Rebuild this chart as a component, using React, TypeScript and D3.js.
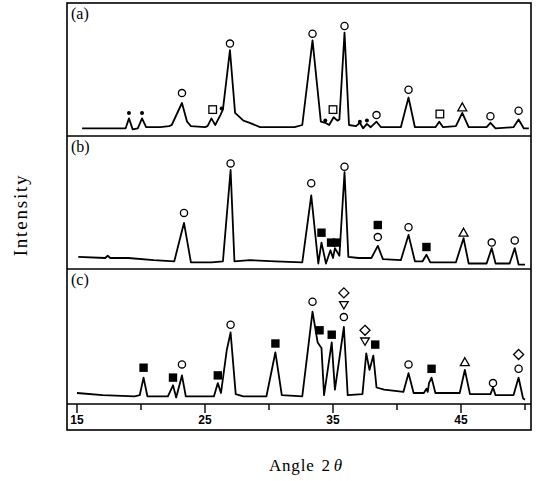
import * as d3 from "d3";

// x ticks and labels
const tickAngles = [15, 20, 25, 30, 35, 40, 45, 50];
const labelAngles = [15, 25, 35, 45];

// traces: [2θ, intensity]
const traceA: [number, number][] = [
  [15.4, 7], [17.5, 7], [18.8, 7], [19.06, 16], [19.35, 6], [19.75, 7], [20.08, 16], [20.4, 8],
  [21.5, 8], [22.2, 9], [22.4, 10], [23.2, 30], [23.6, 13], [23.9, 9], [25.0, 8], [25.2, 9],
  [25.5, 16], [25.8, 10], [26.2, 19], [26.4, 24], [26.95, 78], [27.35, 21], [28.0, 14],
  [28.5, 12], [29.3, 8], [32.0, 8], [32.6, 10], [33.4, 87], [34.05, 13], [34.4, 12],
  [34.7, 10], [35.05, 17], [35.35, 14], [35.5, 15], [35.9, 94], [36.25, 10], [36.8, 9],
  [37.1, 12], [37.35, 7], [37.65, 11], [37.95, 8], [38.4, 13], [38.75, 8], [40.3, 8],
  [40.9, 35], [41.4, 8], [43.0, 8], [43.3, 13], [43.6, 8], [44.6, 9], [45.1, 21],
  [45.6, 8], [47.0, 8], [47.3, 12], [47.7, 7], [49.1, 8], [49.5, 15], [49.9, 7], [50.3, 7],
];

const traceB: [number, number][] = [
  [15.1, 11], [17.2, 10], [17.4, 12], [17.6, 10], [19.0, 10], [21.0, 8], [22.6, 7],
  [23.36, 42], [23.9, 6], [25.5, 6], [26.4, 7], [27.0, 90], [27.3, 7], [28.5, 8],
  [30.5, 7], [32.6, 6], [33.3, 67], [33.85, 5], [34.1, 24], [34.45, 5], [34.8, 17],
  [35.0, 10], [35.15, 19], [35.5, 12], [35.9, 88], [36.2, 11], [37.0, 10], [38.0, 10],
  [38.5, 21], [38.9, 9], [40.3, 8], [40.9, 31], [41.4, 7], [42.0, 7], [42.3, 13],
  [42.6, 6], [44.6, 6], [45.2, 28], [45.6, 5], [47.0, 5], [47.4, 19], [47.7, 5],
  [48.8, 5], [49.2, 19], [49.5, 4], [50.0, 4],
];

const traceC: [number, number][] = [
  [15.0, 10], [17.0, 8], [19.5, 7], [19.9, 8], [20.2, 24], [20.5, 7], [22.1, 7],
  [22.5, 17], [22.75, 6], [23.2, 26], [23.5, 7], [25.7, 7], [26.0, 19], [26.25, 10],
  [26.7, 49], [27.0, 65], [27.4, 9], [28.0, 7], [29.8, 7], [30.5, 47], [31.0, 8],
  [32.6, 7], [33.4, 84], [33.8, 56], [34.1, 51], [34.3, 8], [34.9, 56], [35.15, 13],
  [35.85, 70], [36.15, 8], [37.3, 9], [37.6, 46], [37.85, 31], [38.15, 44], [38.4, 15],
  [39.0, 13], [40.5, 11], [40.9, 28], [41.3, 10], [42.1, 10], [42.3, 14], [42.4, 11],
  [42.5, 19], [42.7, 24], [43.0, 10], [44.9, 10], [45.3, 31], [45.7, 9], [47.3, 9],
  [47.5, 15], [47.7, 8], [49.1, 8], [49.5, 24], [49.85, 5], [50.0, 4],
];

// phase markers: [2θ, level, symbol]
type Mark = [number, number, string];
const marksA: Mark[] = [
  [19.06, 21, "dot"], [20.08, 21, "dot"], [23.2, 39, "circle"], [25.6, 24, "square"],
  [26.3, 25, "dot"], [26.95, 84, "circle"], [33.4, 93, "circle"], [34.4, 14, "dot"],
  [35.0, 24, "square"], [35.9, 100, "circle"], [37.1, 13, "dot"], [37.65, 14, "dot"],
  [38.4, 19, "circle"], [40.9, 42, "circle"], [43.35, 20, "square"], [45.1, 26, "triangle"],
  [47.3, 18, "circle"], [49.5, 23, "circle"],
];

const marksB: Mark[] = [
  [23.36, 51, "circle"], [27.0, 96, "circle"], [33.3, 78, "circle"], [34.1, 33, "fsquare"],
  [34.85, 24, "fsquare"], [35.3, 24, "fsquare"], [35.9, 93, "circle"], [38.5, 29, "circle"],
  [38.5, 40, "fsquare"], [40.9, 38, "circle"], [42.3, 20, "fsquare"], [45.2, 33, "triangle"],
  [47.4, 24, "circle"], [49.2, 26, "circle"],
];

const marksC: Mark[] = [
  [20.2, 33, "fsquare"], [22.5, 24, "fsquare"], [23.2, 36, "circle"], [26.0, 26, "fsquare"],
  [27.0, 72, "circle"], [30.5, 55, "fsquare"], [33.4, 93, "circle"], [33.95, 67, "fsquare"],
  [34.9, 63, "fsquare"], [35.85, 101, "diamond"], [35.85, 90, "tridown"], [35.85, 79, "circle"],
  [37.5, 67, "diamond"], [37.5, 57, "tridown"], [38.3, 54, "fsquare"], [40.9, 36, "circle"],
  [42.7, 32, "fsquare"], [45.3, 38, "triangle"], [47.5, 19, "circle"], [49.5, 32, "circle"],
  [49.5, 45, "diamond"],
];

const panelLabels = ["(a)", "(b)", "(c)"];

const W = 538;
const H = 481;
const frameLeft = 67;
const frameRight = 531;
const panelEdges = [3, 136, 269, 404];
const axisBottom = 430;

const x = d3.scaleLinear().domain([15, 50]).range([77, 525]);

function Marker({ m, y }: { m: Mark; y: d3.ScaleLinear<number, number> }) {
  const cx = x(m[0]);
  const cy = y(m[1]);
  const s = m[2];
  const stroke = { stroke: "#000", strokeWidth: 1.3 };
  if (s === "circle") return <circle cx={cx} cy={cy} r={3.6} fill="#fff" {...stroke} />;
  if (s === "dot") return <circle cx={cx} cy={cy} r={2} fill="#000" />;
  if (s === "square")
    return <rect x={cx - 3.8} y={cy - 3.8} width={7.6} height={7.6} fill="#fff" {...stroke} />;
  if (s === "fsquare")
    return <rect x={cx - 4.2} y={cy - 4.2} width={8.4} height={8.4} fill="#000" />;
  if (s === "triangle")
    return (
      <path d={`M${cx},${cy - 4.5}L${cx + 4.5},${cy + 3.5}L${cx - 4.5},${cy + 3.5}Z`} fill="#fff" {...stroke} />
    );
  if (s === "tridown")
    return (
      <path d={`M${cx},${cy + 4}L${cx + 4.3},${cy - 3.3}L${cx - 4.3},${cy - 3.3}Z`} fill="#fff" {...stroke} />
    );
  return (
    <path d={`M${cx},${cy - 5}L${cx + 5},${cy}L${cx},${cy + 5}L${cx - 5},${cy}Z`} fill="#fff" {...stroke} />
  );
}

export default function App() {
  const traces = [traceA, traceB, traceC];
  const marks = [marksA, marksB, marksC];
  const serif = "'Liberation Serif', 'DejaVu Serif', serif";

  return (
    <svg width={W} height={H} style={{ position: "absolute", left: 0, top: 0, background: "#fff" }}>
      {traces.map((tr, i) => {
        const bottom = panelEdges[i + 1];
        const y = d3.scaleLinear().domain([0, 100]).range([bottom, bottom - 110]);
        const line = d3
          .line<[number, number]>()
          .x((d) => x(d[0]))
          .y((d) => y(d[1]));
        return (
          <g key={i}>
            <path d={line(tr) || ""} fill="none" stroke="#000" strokeWidth={1.8} strokeLinejoin="round" />
            {marks[i].map((m, j) => (
              <Marker key={j} m={m} y={y} />
            ))}
            <text x={frameLeft + 4} y={panelEdges[i] + 16} fontFamily={serif} fontSize={16}>
              {panelLabels[i]}
            </text>
          </g>
        );
      })}

      {/* frame and panel dividers */}
      <rect
        x={frameLeft}
        y={panelEdges[0]}
        width={frameRight - frameLeft}
        height={axisBottom - panelEdges[0]}
        fill="none"
        stroke="#000"
        strokeWidth={1.6}
      />
      {panelEdges.slice(1).map((py) => (
        <line key={py} x1={frameLeft} x2={frameRight} y1={py} y2={py} stroke="#000" strokeWidth={1.6} />
      ))}

      {/* x axis ticks */}
      {tickAngles.map((t) => (
        <line
          key={t}
          x1={x(t)}
          x2={x(t)}
          y1={panelEdges[3]}
          y2={panelEdges[3] + (labelAngles.includes(t) ? 9 : 6)}
          stroke="#000"
          strokeWidth={1.4}
        />
      ))}
      {labelAngles.map((t) => (
        <text
          key={t}
          x={x(t)}
          y={424}
          textAnchor="middle"
          fontFamily="'Liberation Sans', Arial, sans-serif"
          fontSize={12}
          fontWeight="bold"
        >
          {t}
        </text>
      ))}

      <text
        transform="translate(27,215) rotate(-90)"
        textAnchor="middle"
        fontFamily={serif}
        fontSize={19}
        letterSpacing={1.8}
      >
        Intensity
      </text>
      <text x={306} y={471} textAnchor="middle" fontFamily={serif} fontSize={17} letterSpacing={0.8}>
        Angle<tspan dx={7}>2</tspan>
        <tspan dx={3} fontStyle="italic">θ</tspan>
      </text>
    </svg>
  );
}
